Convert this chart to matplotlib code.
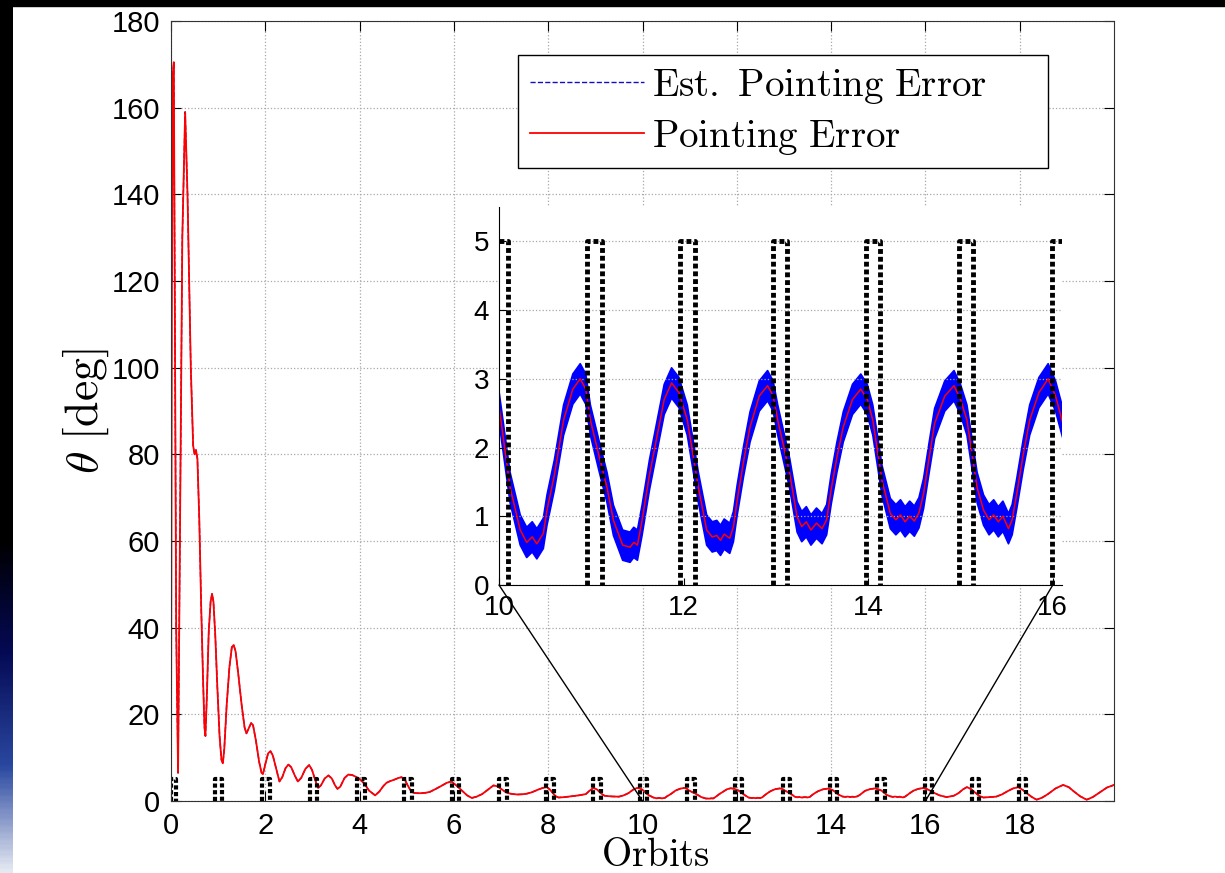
import matplotlib
matplotlib.use('Agg')
import matplotlib.pyplot as plt
import numpy as np
from matplotlib.patches import Rectangle, ConnectionPatch
from matplotlib.colors import LinearSegmentedColormap

plt.rcParams['font.family'] = ['Liberation Sans', 'DejaVu Sans']
plt.rcParams['mathtext.fontset'] = 'cm'

# pointing error [deg] vs orbit
orbit = [0.00, 0.02, 0.04, 0.06, 0.08, 0.11, 0.15, 0.19, 0.24, 0.30,
         0.35, 0.42, 0.47, 0.50, 0.53, 0.56, 0.60, 0.64, 0.68, 0.71,
         0.73, 0.76, 0.80, 0.84, 0.87, 0.90, 0.94, 0.98, 1.03, 1.07,
         1.10, 1.13, 1.18, 1.24, 1.29, 1.33, 1.37, 1.43, 1.50, 1.56,
         1.60, 1.65, 1.70, 1.74, 1.80, 1.87, 1.92, 1.95, 2.00, 2.06,
         2.11, 2.16, 2.23, 2.30, 2.36, 2.43, 2.49, 2.55, 2.62, 2.69,
         2.76, 2.85, 2.93, 2.99, 3.06, 3.12, 3.18, 3.26, 3.34, 3.41,
         3.48, 3.53, 3.59, 3.68, 3.76, 3.84, 3.92, 4.01, 4.10, 4.20,
         4.33, 4.42, 4.50, 4.57, 4.65, 4.73, 4.82, 4.89, 4.96, 5.02,
         5.08, 5.14, 5.22, 5.30, 5.40, 5.49, 5.60, 5.72, 5.85, 5.95,
         6.05, 6.17, 6.28, 6.38, 6.48, 6.60, 6.72, 6.84, 6.92, 7.00,
         7.08, 7.15, 7.25, 7.35, 7.45, 7.55, 7.65, 7.78, 7.88, 7.97,
         8.04, 8.10, 8.16, 8.22, 8.35, 8.50, 8.65, 8.80, 8.88, 8.96,
         9.03, 9.10, 9.15, 9.20, 9.35, 9.50, 9.60, 9.70, 9.80, 9.88,
         9.94, 10.00, 10.12, 10.23, 10.30, 10.36, 10.41, 10.48, 10.52, 10.60,
         10.70, 10.80, 10.88, 10.94, 10.99, 11.08, 11.17, 11.24, 11.34, 11.42,
         11.46, 11.50, 11.55, 11.63, 11.71, 11.79, 11.87, 11.95, 12.04, 12.16,
         12.25, 12.31, 12.36, 12.40, 12.44, 12.50, 12.54, 12.58, 12.65, 12.72,
         12.82, 12.91, 12.97, 13.02, 13.15, 13.23, 13.28, 13.33, 13.38, 13.44,
         13.50, 13.55, 13.60, 13.66, 13.73, 13.83, 13.92, 13.99, 14.05, 14.15,
         14.24, 14.30, 14.35, 14.40, 14.45, 14.50, 14.55, 14.60, 14.66, 14.72,
         14.83, 14.93, 15.00, 15.07, 15.18, 15.25, 15.31, 15.36, 15.41, 15.46,
         15.52, 15.56, 15.61, 15.68, 15.75, 15.85, 15.95, 16.03, 16.12, 16.20,
         16.30, 16.45, 16.60, 16.70, 16.80, 16.88, 16.96, 17.05, 17.14, 17.23,
         17.35, 17.50, 17.62, 17.75, 17.86, 17.97, 18.06, 18.15, 18.26, 18.36,
         18.48, 18.60, 18.76, 18.92, 19.04, 19.15, 19.28, 19.42, 19.55, 19.70,
         19.85, 20.00]
theta = [12, 120, 168, 170.5, 120, 40, 6.5, 60, 130, 159,
         140, 100, 82, 80, 81, 79, 65, 45, 28, 17,
         15, 24, 39, 46, 47.8, 46, 38, 27, 15, 9.5,
         8.7, 12, 22, 31, 35.5, 36, 34.5, 29, 22, 17,
         15.6, 16.8, 18, 17.5, 14, 9, 6.5, 6.2, 8.5, 11,
         11.5, 10.5, 7.5, 4.5, 5.5, 7.6, 8.4, 7.8, 6.0, 4.5,
         5.3, 7.4, 8.3, 7.2, 4.8, 3.0, 3.6, 5.2, 5.9, 5.2,
         3.6, 2.8, 3.3, 5.3, 6.1, 6.0, 5.6, 5.0, 4.0, 2.4,
         1.3, 2.2, 3.4, 4.2, 4.6, 4.9, 5.3, 5.5, 4.9, 3.6,
         2.5, 1.9, 1.8, 1.8, 1.9, 2.1, 2.7, 3.4, 4.2, 4.5,
         3.6, 2.4, 1.3, 0.7, 1.0, 1.6, 2.6, 3.6, 3.4, 2.8,
         2.2, 1.8, 1.6, 1.5, 1.55, 1.7, 2.0, 2.6, 3.0, 3.2,
         2.6, 1.8, 1.1, 0.8, 0.9, 1.1, 1.3, 1.6, 2.4, 3.0,
         2.7, 2.0, 1.5, 1.2, 1.05, 1.0, 1.3, 1.8, 2.6, 3.0,
         2.9, 2.6, 1.42, 0.8, 0.62, 0.7, 0.6, 0.75, 1.09, 1.6,
         2.4, 2.85, 3.0, 2.85, 2.4, 1.9, 1.42, 0.94, 0.58, 0.55,
         0.62, 0.58, 0.94, 1.6, 2.15, 2.7, 2.94, 2.8, 2.4, 1.42,
         0.8, 0.7, 0.72, 0.65, 0.74, 0.68, 0.85, 1.23, 1.8, 2.3,
         2.75, 2.9, 2.75, 2.4, 1.62, 0.99, 0.85, 0.92, 0.8, 0.9,
         0.82, 0.95, 1.4, 1.85, 2.3, 2.7, 2.85, 2.7, 2.4, 1.52,
         1.04, 0.95, 1.02, 0.92, 1.0, 0.93, 1.05, 1.33, 1.85, 2.35,
         2.75, 2.9, 2.7, 2.4, 1.42, 1.09, 0.95, 1.02, 0.92, 1.0,
         0.82, 0.95, 1.33, 1.9, 2.4, 2.8, 3.0, 2.75, 2.3, 1.8,
         1.3, 0.9, 1.2, 1.8, 2.7, 3.2, 2.8, 2.0, 1.2, 0.8,
         0.9, 1.0, 1.5, 2.3, 2.9, 3.2, 2.6, 1.8, 0.9, 0.3,
         0.8, 1.6, 2.9, 3.7, 3.2, 2.2, 1.1, 0.3, 0.9, 2.0,
         3.1, 3.7]
assert len(orbit) == len(theta)

# estimate follows the true error except the very first sample
est_theta = list(theta)
est_theta[0] = 173
est_noise = 0.22  # half width of the noisy estimate band (inset)

# switching pulses (0 -> 5)
pulse_on = [0.00, 0.93, 1.94, 2.94, 3.95, 4.95, 5.96, 6.96, 7.96, 8.95,
            9.94, 10.95, 11.96, 12.97, 13.98, 14.98, 15.99, 16.99, 17.98]
pulse_off = [0.10, 1.09, 2.10, 3.10, 4.11, 5.11, 6.11, 7.12, 8.12, 9.11,
             10.10, 11.12, 12.12, 13.12, 14.13, 15.14, 16.14, 17.14, 18.13]
pulse_high = 5

sq_x, sq_y = [], []
for on, off in zip(pulse_on, pulse_off):
    sq_x += [on, on, off, off, np.nan]
    sq_y += [0, pulse_high, pulse_high, 0, np.nan]

fig = plt.figure(figsize=(12.25, 8.73), dpi=100)
fig.patch.set_facecolor('white')

# slide background bits: black top strip, dark left strip fading to blue
fig.patches.append(Rectangle((0, 1 - 6 / 873), 1, 6 / 873, transform=fig.transFigure,
                             color='black', zorder=0))
bg = fig.add_axes([0, 0, 13 / 1225, 1])
cmap = LinearSegmentedColormap.from_list('slide', [(0, '#000000'), (0.62, '#000000'),
                                                    (0.75, '#050a55'), (0.88, '#2a48a0'),
                                                    (1.0, '#e4e8f2')])
bg.imshow(np.linspace(0, 1, 400).reshape(-1, 1), aspect='auto', cmap=cmap)
bg.axis('off')

ax = fig.add_axes([171 / 1225, 1 - 801 / 873, (1114 - 171) / 1225, (801 - 21) / 873])
ax.plot(orbit, est_theta, color='#1010c0', ls='--', lw=1.0,
        label=r'$\mathrm{Est.\ Pointing\ Error}$')
ax.plot(orbit, theta, color='red', lw=1.3, label=r'$\mathrm{Pointing\ Error}$')
ax.plot(sq_x, sq_y, color='black', lw=3, dashes=(1, 0.6), dash_capstyle='butt')
ax.set_xlim(0, 20)
ax.set_ylim(0, 180)
ax.set_xticks(range(0, 19, 2))
ax.set_yticks(range(0, 181, 20))
ax.grid(True, ls=':', color='#a8a8a8', lw=0.9)
ax.tick_params(direction='in', top=True, right=True, length=7, labelsize=21, pad=8)
for s in ax.spines.values():
    s.set_color('#333333')
ax.set_xlabel(r'$\mathrm{Orbits}$', fontsize=28)
ax.xaxis.set_label_coords(0.514, -0.047)
ax.set_ylabel(r'$\theta\ [\mathrm{deg}]$', fontsize=33)
ax.yaxis.set_label_coords(-0.064, 0.5)

leg = ax.legend(loc='upper left', bbox_to_anchor=(0.368, 0.81, 0.562, 0.146),
                mode='expand', borderaxespad=0, fontsize=28, handlelength=2.95,
                handletextpad=0.2, labelspacing=0.3, borderpad=0.3, fancybox=False,
                framealpha=1, edgecolor='black')
leg.get_frame().set_linewidth(1.0)

# inset
axins = fig.add_axes([499 / 1225, 1 - 585 / 873, (1062 - 499) / 1225, (585 - 207) / 873])
axins.set_facecolor('white')
th = np.array(theta)
axins.fill_between(orbit, th - est_noise, th + est_noise, color='blue', lw=1.2,
                   edgecolor='blue')
axins.plot(orbit, theta, color='red', lw=1.1)
axins.plot(sq_x, sq_y, color='black', lw=3.5, dashes=(1, 0.6), dash_capstyle='butt')
axins.set_xlim(10, 16.1)
axins.set_ylim(0, 5.5)
axins.set_xticks([10, 12, 14, 16])
axins.set_yticks(range(0, 6))
axins.grid(True, axis='y', ls=':', color='#a8a8a8', lw=0.9)
axins.spines['top'].set_visible(False)
axins.spines['right'].set_visible(False)
axins.tick_params(direction='in', length=5, labelsize=20, pad=7)

for xv in (10, 16):
    con = ConnectionPatch(xyA=(xv, 0), coordsA=axins.transData,
                          xyB=(xv, 0), coordsB=ax.transData, color='black', lw=1)
    fig.add_artist(con)

fig.savefig('out.png', dpi=100)
